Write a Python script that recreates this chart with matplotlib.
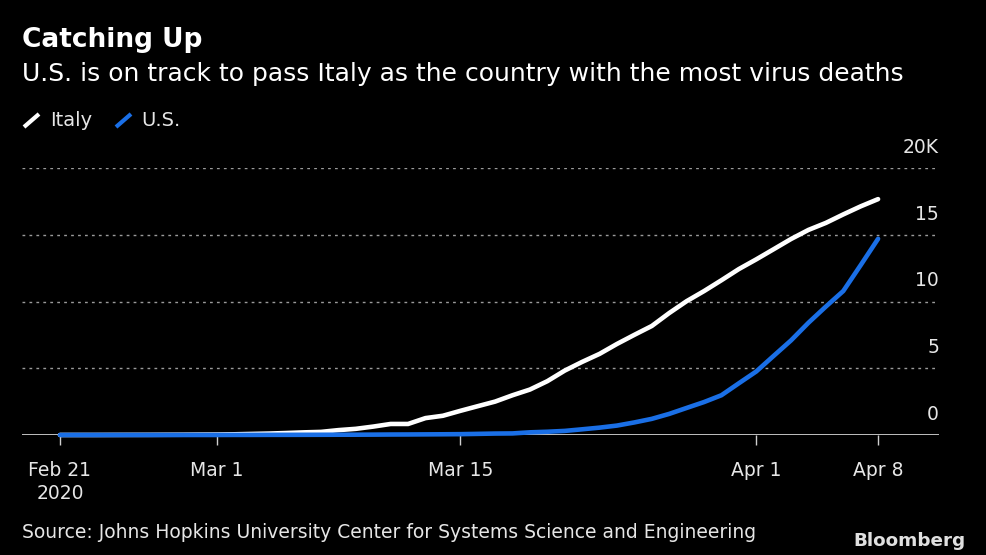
import matplotlib
matplotlib.use("Agg")
import matplotlib.pyplot as plt
from matplotlib.lines import Line2D
import pandas as pd

# daily dates Feb 21 - Apr 8 2020
dates = pd.date_range("2020-02-21", "2020-04-08", freq="D")

italy = [1, 2, 3, 7, 10, 12, 17, 21, 29, 34, 52, 79, 107, 148, 197, 233,
         366, 463, 631, 827, 827, 1266, 1441, 1809, 2158, 2503, 2978, 3405,
         4032, 4825, 5476, 6077, 6820, 7503, 8165, 9134, 10023, 10779,
         11591, 12428, 13155, 13915, 14681, 15362, 15887, 16523, 17127, 17669]
us = [0, 0, 0, 0, 0, 0, 0, 0, 1, 1, 6, 7, 11, 12, 14, 17, 21, 22, 28, 36,
      40, 47, 54, 63, 85, 108, 118, 200, 244, 307, 427, 552, 706, 942, 1209,
      1581, 2026, 2467, 2978, 3873, 4757, 5926, 7087, 8407, 9619, 10783,
      12722, 14695]

ytick_vals = [0, 5000, 10000, 15000, 20000]
ytick_labels = ["0", "5", "10", "15", "20K"]
xtick_dates = ["2020-02-21", "2020-03-01", "2020-03-15", "2020-04-01", "2020-04-08"]
xtick_labels = ["Feb 21\n2020", "Mar 1", "Mar 15", "Apr 1", "Apr 8"]

bg = "black"
blue = "#1a6fe6"
txt = "#e6e6e6"

plt.rcParams["font.family"] = "DejaVu Sans"

W, H = 987, 555
fig = plt.figure(figsize=(W / 100, H / 100), dpi=100, facecolor=bg)
ax = fig.add_axes([22 / W, 1 - 435 / H, (939 - 22) / W, (435 - 168) / H])
ax.set_facecolor(bg)

ax.plot(dates, italy, color="white", lw=3.3, solid_capstyle="round",
        solid_joinstyle="round", clip_on=False, zorder=3)
ax.plot(dates, us, color=blue, lw=3.3, solid_capstyle="round",
        solid_joinstyle="round", clip_on=False, zorder=4)

x0 = dates[0] - pd.Timedelta(days=2.18)
x1 = dates[0] + pd.Timedelta(days=50.5)
ax.set_xlim(x0, x1)
ax.set_ylim(0, 20000)

# dotted gridlines
for v in ytick_vals[1:]:
    ax.axhline(v, color="#9a9a9a", lw=1, ls=(0, (2, 3)), zorder=1)
ax.axhline(0, color="#cfcfcf", lw=1.3, zorder=2)

for s in ax.spines.values():
    s.set_visible(False)
ax.set_yticks([])
ax.set_xticks(pd.to_datetime(xtick_dates))
ax.set_xticklabels(xtick_labels, color=txt, fontsize=13.5, linespacing=1.25)
ax.tick_params(axis="x", colors="#cfcfcf", length=7, width=1, pad=12,
               labelcolor=txt)

# y labels on the right, sitting above each gridline
for v, lab in zip(ytick_vals, ytick_labels):
    ax.annotate(lab, xy=(1, v), xycoords=("axes fraction", "data"),
                xytext=(0, 8), textcoords="offset points",
                ha="right", va="bottom", color=txt, fontsize=13.5)

# title, subtitle
fig.text(22 / W, 1 - 40 / H, "Catching Up", color="white", fontsize=19,
         fontweight="bold", va="center", ha="left")
fig.text(22 / W, 1 - 74 / H, "U.S. is on track to pass Italy as the country with the most virus deaths",
         color="white", fontsize=18, va="center", ha="left")

# legend with slash markers
fig.add_artist(Line2D([24 / W, 39 / W], [1 - 127 / H, 1 - 114 / H], color="white",
                      lw=3, solid_capstyle="butt"))
fig.text(50 / W, 1 - 120 / H, "Italy", color=txt, fontsize=14, va="center")
fig.add_artist(Line2D([116 / W, 131 / W], [1 - 127 / H, 1 - 114 / H], color=blue,
                      lw=3, solid_capstyle="butt"))
fig.text(141 / W, 1 - 120 / H, "U.S.", color=txt, fontsize=14, va="center")

# footer
fig.text(22 / W, 1 - 533 / H,
         "Source: Johns Hopkins University Center for Systems Science and Engineering",
         color=txt, fontsize=13.5, va="center")
fig.text(966 / W, 1 - 541 / H, "Bloomberg", color="#e0e0e0", fontsize=13.2,
         fontweight="bold", va="center", ha="right")

fig.savefig("out.png", dpi=100, facecolor=bg)
